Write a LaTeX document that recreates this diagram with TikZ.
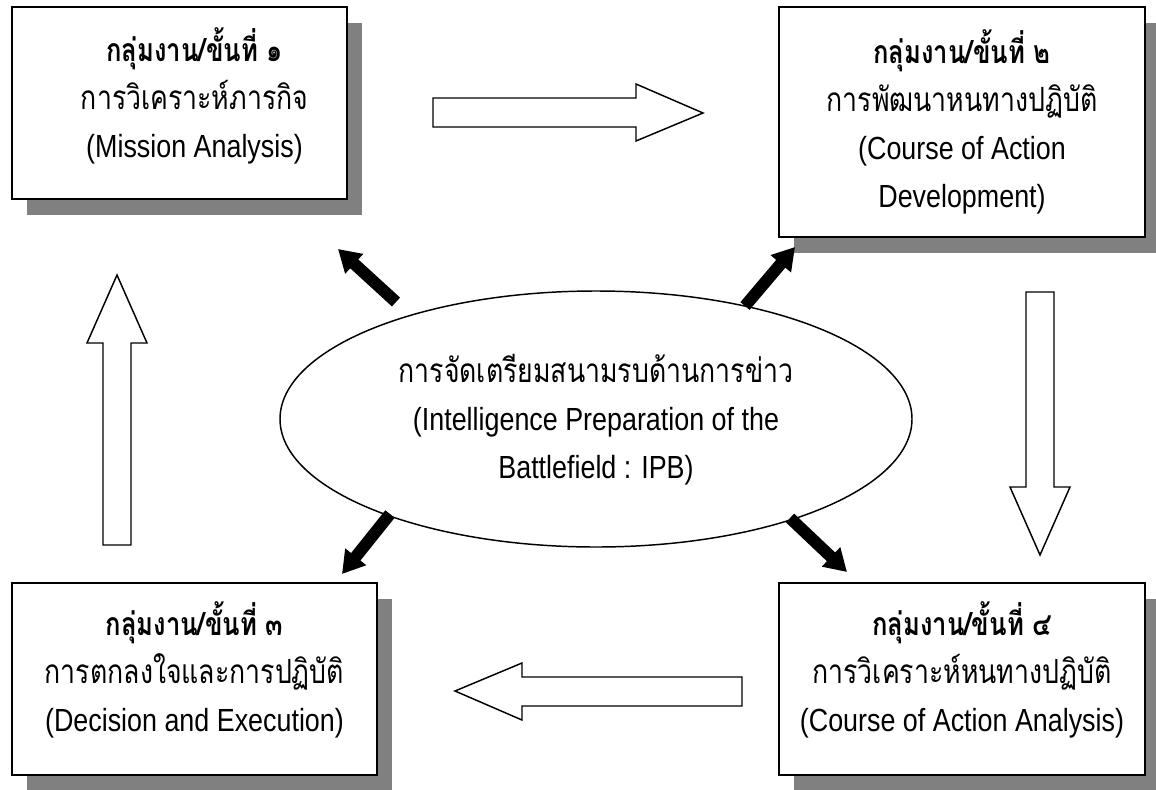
\documentclass[tikz,border=0pt]{standalone}
\usepackage{fontspec}
\setmainfont{Liberation Sans}[FakeStretch=0.84]
\newfontfamily\thai[Script=Thai,FakeStretch=0.8]{Loma}
\usetikzlibrary{shapes.geometric,arrows.meta,shadows}
\definecolor{shadowgray}{HTML}{808080}
\newcommand{\thaitext}[1]{{\fontsize{25}{36}\thai #1}}
\newcommand{\thaihead}[1]{{\fontsize{24}{36}\thai\bfseries #1}}
\begin{document}
\begin{tikzpicture}[x=0.75pt,y=-0.75pt,
  stagebox/.style={draw=black, line width=1.4pt, fill=white, rectangle, inner sep=0pt,
    drop shadow={shadow xshift=11.25pt, shadow yshift=-12pt, fill=shadowgray, opacity=1}},
  stagetext/.style={align=center, inner sep=0pt, font=\fontsize{24}{36}\selectfont},
  ipbshape/.style={ellipse, draw=black, line width=1.1pt, fill=white, inner sep=0pt,
    minimum width=474pt, minimum height=192pt},
  ipbarrow/.style={draw=black, line width=9pt, -{Triangle[length=16.5pt,width=19pt]}},
  hollow/.style={draw=black, line width=1.1pt, fill=white, line join=miter}
]
\useasboundingbox (0,0) rectangle (1156,789);
\clip (0,0) rectangle (1156,789);

% four stage boxes
\node[stagebox, minimum width=251.25pt, minimum height=144pt] (b1) at (179.5,103) {};
\node[stagebox, minimum width=274.5pt, minimum height=172.5pt] (b2) at (962,122) {};
\node[stagebox, minimum width=273.75pt, minimum height=144pt] (b3) at (194.5,679) {};
\node[stagebox, minimum width=274.5pt, minimum height=144pt] (b4) at (962,679) {};

\node[stagetext] (b1t) at (194.5,96)
  {\thaihead{กลุ่มงาน/ขั้นที่ ๑}\\\thaitext{การวิเคราะห์ภารกิจ}\\(Mission Analysis)};
\node[stagetext] (b2t) at (962,122)
  {\thaihead{กลุ่มงาน/ขั้นที่ ๒}\\\thaitext{การพัฒนาหนทางปฏิบัติ}\\(Course of Action\\Development)};
\node[stagetext] (b3t) at (194.5,670)
  {\thaihead{กลุ่มงาน/ขั้นที่ ๓}\\\thaitext{การตกลงใจและการปฏิบัติ}\\(Decision and Execution)};
\node[stagetext] (b4t) at (962,670)
  {\thaihead{กลุ่มงาน/ขั้นที่ ๔}\\\thaitext{การวิเคราะห์หนทางปฏิบัติ}\\(Course of Action Analysis)};

% central IPB ellipse
\node[ipbshape] (ipb) at (596,419) {};
\node[stagetext] (ipbt) at (596,420)
  {\thaitext{การจัดเตรียมสนามรบด้านการข่าว}\\(Intelligence Preparation of the\\Battlefield : IPB)};

% black arrows leaving the ellipse
\coordinate (s1) at (396,302); \coordinate (e1) at (338,249);
\coordinate (s2) at (745,306); \coordinate (e2) at (795,247);
\coordinate (s3) at (390,514); \coordinate (e3) at (342,574);
\coordinate (s4) at (790,518); \coordinate (e4) at (847,572);
\draw[ipbarrow] (s1) -- (e1);
\draw[ipbarrow] (s2) -- (e2);
\draw[ipbarrow] (s3) -- (e3);
\draw[ipbarrow] (s4) -- (e4);

% hollow block arrows of the cycle
\draw[hollow] (433,98) -- (636,98) -- (636,84) -- (703,113) -- (636,141) -- (636,127) -- (433,127) -- cycle;
\draw[hollow] (1026,292) -- (1054,292) -- (1054,487) -- (1070,487) -- (1040,555) -- (1010,487) -- (1026,487) -- cycle;
\draw[hollow] (742,677) -- (522,677) -- (522,663) -- (455,691) -- (522,720) -- (522,706) -- (742,706) -- cycle;
\draw[hollow] (103,545) -- (103,343) -- (87,343) -- (117,275) -- (147,343) -- (131,343) -- (131,545) -- cycle;
\end{tikzpicture}
\end{document}
